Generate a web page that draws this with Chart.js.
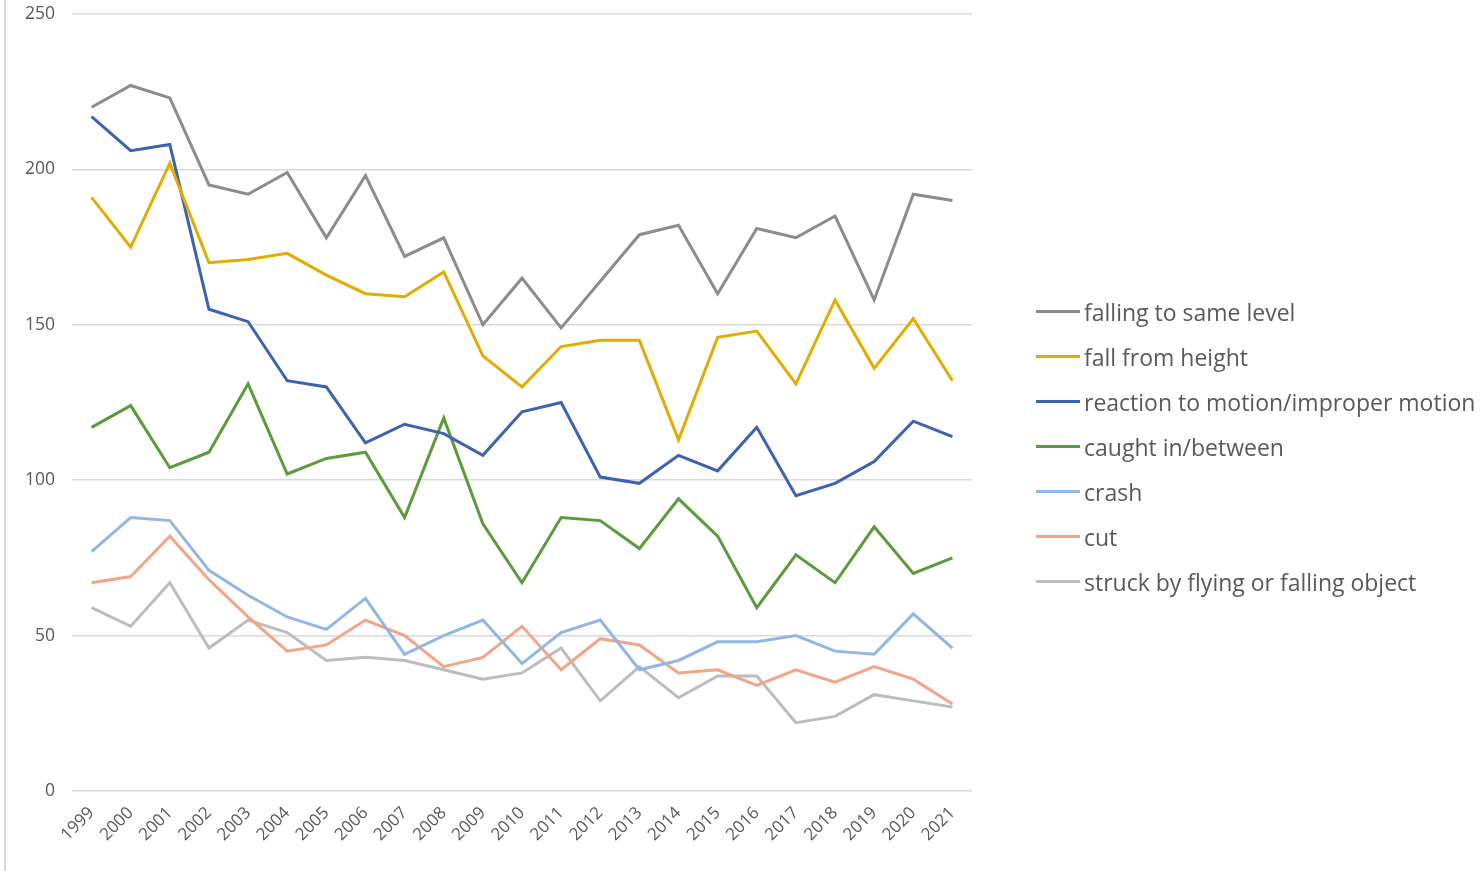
<!DOCTYPE html>
<html>
<head>
<meta charset="utf-8">
<script src="https://cdn.jsdelivr.net/npm/chart.js@4/dist/chart.umd.min.js"></script>
<style>
  html, body { margin: 0; padding: 0; background: #fff; }
  #wrap { position: relative; width: 1481px; height: 871px; overflow: hidden; }
  #edge { position: absolute; left: 4px; top: 0; width: 1.5px; height: 871px; background: #d9d9d9; }
  #legend { position: absolute; left: 1036px; top: 289px; font-family: "Open Sans", sans-serif; font-size: 23px; color: #595959; }
  #legend .row { height: 45px; display: flex; align-items: center; white-space: nowrap; }
  #legend .swatch { width: 44px; height: 3px; margin-right: 4px; }
</style>
</head>
<body>
<div id="wrap">
  <div id="edge"></div>
  <canvas id="accidentChart" width="1481" height="871"></canvas>
  <div id="legend"></div>
</div>
<script>
// años y series
const years = ['1999','2000','2001','2002','2003','2004','2005','2006','2007','2008','2009','2010',
               '2011','2012','2013','2014','2015','2016','2017','2018','2019','2020','2021'];

const fallingSameLevel = [220, 227, 223, 195, 192, 199, 178, 198, 172, 178, 150, 165, 149, 164, 179, 182, 160, 181, 178, 185, 158, 192, 190];
const fallFromHeight   = [191, 175, 202, 170, 171, 173, 166, 160, 159, 167, 140, 130, 143, 145, 145, 113, 146, 148, 131, 158, 136, 152, 132];
const reactionMotion   = [217, 206, 208, 155, 151, 132, 130, 112, 118, 115, 108, 122, 125, 101, 99, 108, 103, 117, 95, 99, 106, 119, 114];
const caughtBetween    = [117, 124, 104, 109, 131, 102, 107, 109, 88, 120, 86, 67, 88, 87, 78, 94, 82, 59, 76, 67, 85, 70, 75];
const crash            = [77, 88, 87, 71, 63, 56, 52, 62, 44, 50, 55, 41, 51, 55, 39, 42, 48, 48, 50, 45, 44, 57, 46];
const cut              = [67, 69, 82, 68, 56, 45, 47, 55, 50, 40, 43, 53, 39, 49, 47, 38, 39, 34, 39, 35, 40, 36, 28];
const struckByObject   = [59, 53, 67, 46, 55, 51, 42, 43, 42, 39, 36, 38, 46, 29, 40, 30, 37, 37, 22, 24, 31, 29, 27];

const yTicks = { min: 0, max: 250, step: 50 };

const seriesNames  = ['falling to same level', 'fall from height', 'reaction to motion/improper motion',
                      'caught in/between', 'crash', 'cut', 'struck by flying or falling object'];
const seriesData   = [fallingSameLevel, fallFromHeight, reactionMotion, caughtBetween, crash, cut, struckByObject];
const seriesColors = ['#8c8c8c', '#e3ac00', '#3c62b2', '#5c9b3c', '#92b7e4', '#f3a687', '#bdbdbd'];

function buildDatasets() {
    return seriesNames.map((name, i) => ({
        label: name,
        data: seriesData[i],
        borderColor: seriesColors[i],
        backgroundColor: seriesColors[i],
        borderWidth: 3,
        pointRadius: 0,
        tension: 0,
        fill: false
    }));
}

function renderLegend(chart) {
    const box = document.getElementById('legend');
    chart.data.datasets.forEach(ds => {
        const row = document.createElement('div');
        row.className = 'row';
        row.innerHTML = `<span class="swatch" style="background:${ds.borderColor}"></span><span>${ds.label}</span>`;
        box.appendChild(row);
    });
}

const ctx = document.getElementById('accidentChart').getContext('2d');
const chart = new Chart(ctx, {
    type: 'line',
    data: { labels: years, datasets: buildDatasets() },
    options: {
        responsive: false,
        animation: false,
        layout: { padding: { left: 0, right: 509, top: 14, bottom: 0 } },
        plugins: {
            legend: { display: false },
            title: { display: false },
            tooltip: { enabled: false }
        },
        scales: {
            x: {
                offset: true,
                grid: { display: false, drawTicks: false },
                border: { display: false },
                ticks: {
                    autoSkip: false, minRotation: 45, maxRotation: 45, padding: 12,
                    color: '#595959', font: { family: 'Open Sans', size: 17 }
                },
                afterFit: s => { s.height = 80; }
            },
            y: {
                min: yTicks.min, max: yTicks.max,
                grid: { color: '#d9d9d9', lineWidth: 1.5, drawTicks: false },
                border: { display: false },
                ticks: {
                    stepSize: yTicks.step, padding: 17,
                    color: '#595959', font: { family: 'Open Sans', size: 17.5 }
                },
                afterFit: s => { s.width = 72; s.paddingTop = 0; s.paddingBottom = 0; }
            }
        }
    }
});
renderLegend(chart);
</script>
</body>
</html>
